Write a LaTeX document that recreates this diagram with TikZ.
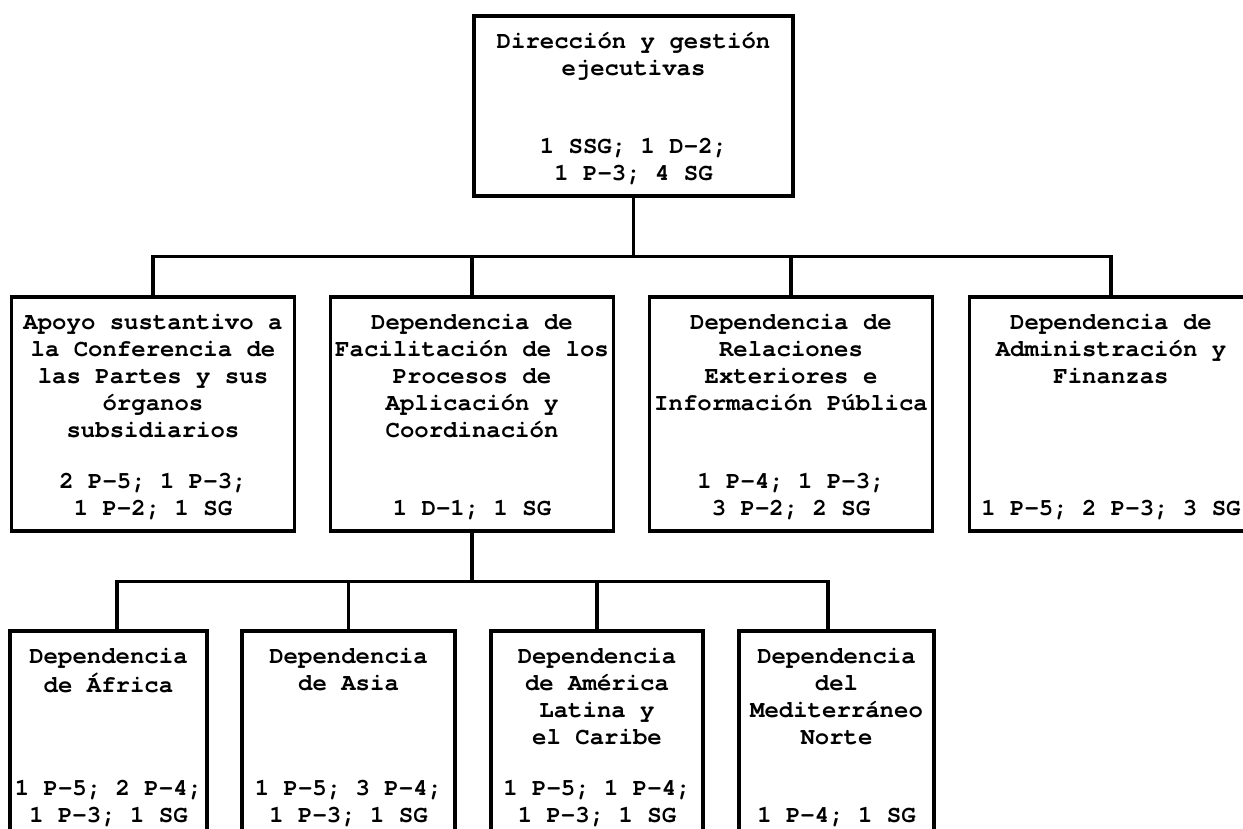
\documentclass[tikz,border=0pt]{standalone}
\usepackage{fontspec}
\setmonofont{TeX Gyre Cursor}
\usetikzlibrary{positioning}
\tikzstyle{unit} = [rectangle, draw=black, line width=3.2pt, inner xsep=0pt, inner ysep=7pt, font=\ttfamily\bfseries\fontsize{24}{27}\selectfont]
\tikzstyle{link} = [line width=3.2pt]
% box text: width, height, name, posts
\newcommand{\unittext}[4]{\parbox[t][#2][t]{#1}{\vspace*{7pt}\centering\strut #3\strut\par\vfill\strut #4\strut\par}}

\begin{document}
\begin{tikzpicture}[x=1pt, y=-1pt]
			\useasboundingbox (0,0) rectangle (1243,828);
			\clip (0,0) rectangle (1243,828);
			
			\node (dir) [unit] at (633.5,106) {\unittext{319pt}{166pt}{Dirección y gestión\\ejecutivas}{1 SSG; 1 D-2;\\1 P-3; 4 SG}};
			
			% second level
			\node (apoyo) [unit] at (153,414) {\unittext{283pt}{220pt}{Apoyo sustantivo a\\la Conferencia de\\las Partes y sus\\órganos\\subsidiarios}{2 P-5; 1 P-3;\\1 P-2; 1 SG}};
			\node (facil) [unit] at (472,414) {\unittext{283pt}{220pt}{Dependencia de\\Facilitación de los\\Procesos de\\Aplicación y\\Coordinación}{1 D-1; 1 SG}};
			\node (relac) [unit] at (791,414) {\unittext{283pt}{220pt}{Dependencia de\\Relaciones\\Exteriores e\\Información Pública}{1 P-4; 1 P-3;\\3 P-2; 2 SG}};
			\node (admin) [unit] at (1111,414) {\unittext{283pt}{220pt}{Dependencia de\\Administración y\\Finanzas}{1 P-5; 2 P-3; 3 SG}};
			
			% third level
			\node (africa) [unit] at (108.5,734.5) {\unittext{197pt}{193pt}{Dependencia\\de África}{1 P-5; 2 P-4;\\1 P-3; 1 SG}};
			\node (asia) [unit] at (348.5,734.5) {\unittext{213pt}{193pt}{Dependencia\\de Asia}{1 P-5; 3 P-4;\\1 P-3; 1 SG}};
			\node (amlat) [unit] at (597,734.5) {\unittext{212pt}{193pt}{Dependencia\\de América\\Latina y\\el Caribe}{1 P-5; 1 P-4;\\1 P-3; 1 SG}};
			\node (medit) [unit] at (836.5,734.5) {\unittext{195pt}{193pt}{Dependencia\\del\\Mediterráneo\\Norte}{1 P-4; 1 SG}};
			
			\draw [link] (dir.south) -- ++(0,59) -| (apoyo.north);
			\draw [link] (dir.south) -- ++(0,59) -| (facil.north);
			\draw [link] (dir.south) -- ++(0,59) -| (relac.north);
			\draw [link] (dir.south) -- ++(0,59) -| (admin.north);
			
			\draw [link] (facil.south) -- ++(0,49) -| ([xshift=8.5pt]africa.north);
			\draw [link] (facil.south) -- ++(0,49) -| (asia.north);
			\draw [link] (facil.south) -- ++(0,49) -| (amlat.north);
			\draw [link] (facil.south) -- ++(0,49) -| ([xshift=-8.5pt]medit.north);
			
		\end{tikzpicture}
\end{document}
